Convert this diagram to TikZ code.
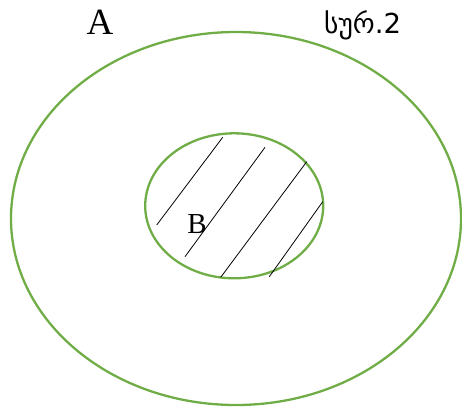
\documentclass[tikz,border=0pt]{standalone}
\usepackage{fontspec}
\usetikzlibrary{shapes.geometric}
\setmainfont{Liberation Serif}
\newfontfamily\geofont[Script=Georgian]{DejaVu Sans}
\definecolor{setgreen}{HTML}{70AD47}

\begin{document}
\begin{tikzpicture}[
    x=1pt, y=-1pt,
    % Styles
    setline/.style={draw=setgreen, line width=2.3pt},
    hatchline/.style={draw=black, line width=0.8pt},
    setlbl/.style={font=\fontsize{#1}{#1}\selectfont, inner sep=0pt},
]
\useasboundingbox (0,0) rectangle (462,407);

% outer set A and inner set B
\node[setline, ellipse, minimum width=450pt, minimum height=373pt, inner sep=0pt]
    (outer) at (236,218.5) {};
\node[setline, ellipse, minimum width=178pt, minimum height=145pt, inner sep=0pt]
    (inner) at (234.2,205.8) {};

% hatching of B
\coordinate (h1a) at (156.7,225);   \coordinate (h1b) at (222.7,137.3);
\coordinate (h2a) at (185,256.7);   \coordinate (h2b) at (265,147.3);
\coordinate (h3a) at (220.7,277.3); \coordinate (h3b) at (306.7,161.7);
\coordinate (h4a) at (269.3,276.7); \coordinate (h4b) at (322.7,201.7);
\foreach \i in {1,...,4}
    \draw[hatchline] (h\i a) -- (h\i b);

% labels
\node[setlbl=37] (lblA) at (100,22) {A};
\node[setlbl=29] (lblB) at (197,224) {B};
\node[setlbl=27.5, anchor=west] (fig) at (324,25) {\geofont სურ.2};

\end{tikzpicture}
\end{document}
